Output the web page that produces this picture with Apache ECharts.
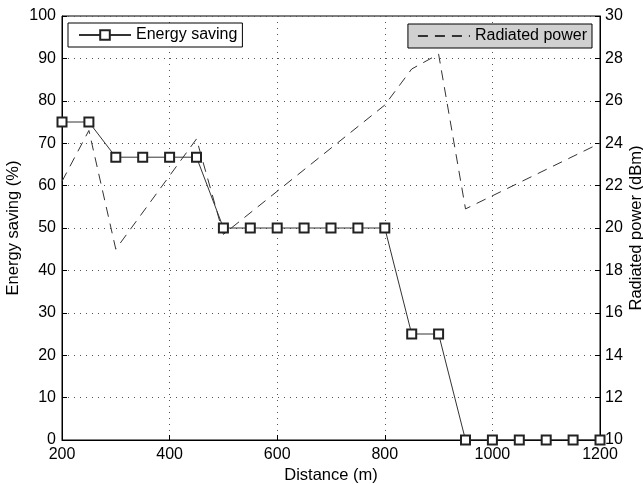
<!DOCTYPE html>
<html>
<head>
<meta charset="utf-8">
<script src="https://cdn.jsdelivr.net/npm/echarts@6/dist/echarts.min.js"></script>
<style>html,body{margin:0;padding:0;background:#fff;}#c{width:643px;height:484px;}</style>
</head>
<body>
<div id="c"></div>
<script>
// Energy saving (%) vs distance (m)
const savingDistances = [200, 250, 300, 350, 400, 450, 500, 550, 600, 650, 700, 750, 800, 850, 900, 950, 1000, 1050, 1100, 1150, 1200];
const savingValues = [75, 75, 66.7, 66.7, 66.7, 66.7, 50, 50, 50, 50, 50, 50, 50, 25, 25, 0, 0, 0, 0, 0, 0];
// Radiated power (dBm) vertices vs distance (m)
const powerDistances = [200, 250, 300, 450, 500, 800, 850, 900, 950, 1200];
const powerValues = [22.2, 24.6, 19.0, 24.2, 19.7, 25.8, 27.5, 28.2, 20.9, 24.0];
const xTicks = [200, 400, 600, 800, 1000, 1200];
const leftTicks = [0, 10, 20, 30, 40, 50, 60, 70, 80, 90, 100];
const rightTicks = [10, 12, 14, 16, 18, 20, 22, 24, 26, 28, 30];

const font = 'Liberation Sans, Arial, Helvetica, sans-serif';
const chart = echarts.init(document.getElementById('c'));
const savingData = savingDistances.map((d, i) => [d, savingValues[i]]);
const powerData = powerDistances.map((d, i) => [d, powerValues[i]]);
const gridLine = { show: true, lineStyle: { type: [1, 5], color: '#555', width: 1 } };

chart.setOption({
  animation: false,
  backgroundColor: '#fff',
  textStyle: { fontFamily: font },
  grid: { left: 62, right: 43, top: 16, bottom: 44, containLabel: false, outerBoundsMode: 'none', show: true, borderColor: '#000', borderWidth: 1, backgroundColor: 'transparent' },
  legend: [
    {
      data: ['Energy saving'],
      left: 68, top: 23,
      borderColor: '#000', borderWidth: 1,
      backgroundColor: '#fff',
      padding: [4, 5, 4, 10],
      itemWidth: 52, itemHeight: 12, itemGap: 0,
      textStyle: { fontFamily: font, fontSize: 16, color: '#000' }
    },
    {
      data: [{ name: 'Radiated power', itemStyle: { opacity: 0 } }],
      right: 51, top: 24,
      borderColor: '#000', borderWidth: 1,
      backgroundColor: '#d0d0d0',
      padding: [4, 5, 4, 9],
      itemWidth: 52, itemHeight: 12, itemGap: 0,
      textStyle: { fontFamily: font, fontSize: 16, color: '#000' }
    }
  ],
  xAxis: {
    type: 'value', min: xTicks[0], max: xTicks[xTicks.length - 1], interval: 200,
    name: 'Distance (m)', nameLocation: 'middle', nameGap: 27, nameMoveOverlap: false,
    nameTextStyle: { fontFamily: font, fontSize: 16.5, color: '#000' },
    axisLine: { show: true, lineStyle: { color: '#000', width: 1 } },
    axisTick: { show: true, inside: true, length: 5, lineStyle: { color: '#000' } },
    axisLabel: { fontFamily: font, fontSize: 16, color: '#000', margin: 7, formatter: v => String(v) },
    splitLine: gridLine
  },
  yAxis: [
    {
      type: 'value', min: leftTicks[0], max: leftTicks[leftTicks.length - 1], interval: 10,
      name: 'Energy saving (%)', nameLocation: 'middle', nameGap: 40, nameRotate: 90, nameMoveOverlap: false,
      nameTextStyle: { fontFamily: font, fontSize: 16.5, color: '#000' },
      axisLine: { show: true, lineStyle: { color: '#000', width: 1 } },
      axisTick: { show: true, inside: true, length: 5, lineStyle: { color: '#000' } },
      axisLabel: { fontFamily: font, fontSize: 16, color: '#000', margin: 6, formatter: v => String(v) },
      splitLine: gridLine
    },
    {
      type: 'value', min: rightTicks[0], max: rightTicks[rightTicks.length - 1], interval: 2,
      position: 'right',
      name: 'Radiated power (dBm)', nameLocation: 'middle', nameGap: 28, nameRotate: 90, nameMoveOverlap: false,
      nameTextStyle: { fontFamily: font, fontSize: 16.5, color: '#000' },
      axisLine: { show: true, lineStyle: { color: '#000', width: 1 } },
      axisTick: { show: true, inside: true, length: 5, lineStyle: { color: '#000' } },
      axisLabel: { fontFamily: font, fontSize: 16, color: '#000', margin: 5 },
      splitLine: { show: false }
    }
  ],
  series: [
    {
      name: 'Energy saving', type: 'line', yAxisIndex: 0, data: savingData,
      symbol: 'emptyRect', symbolSize: 9,
      lineStyle: { color: '#333', width: 1 },
      itemStyle: { color: '#222', borderColor: '#222', borderWidth: 1 },
      z: 3
    },
    {
      name: 'Radiated power', type: 'line', yAxisIndex: 1, data: powerData,
      symbol: 'none',
      lineStyle: { color: '#333', width: 1, type: [10, 7] },
      itemStyle: { color: '#333' },
      z: 2
    }
  ]
});
</script>
</body>
</html>
